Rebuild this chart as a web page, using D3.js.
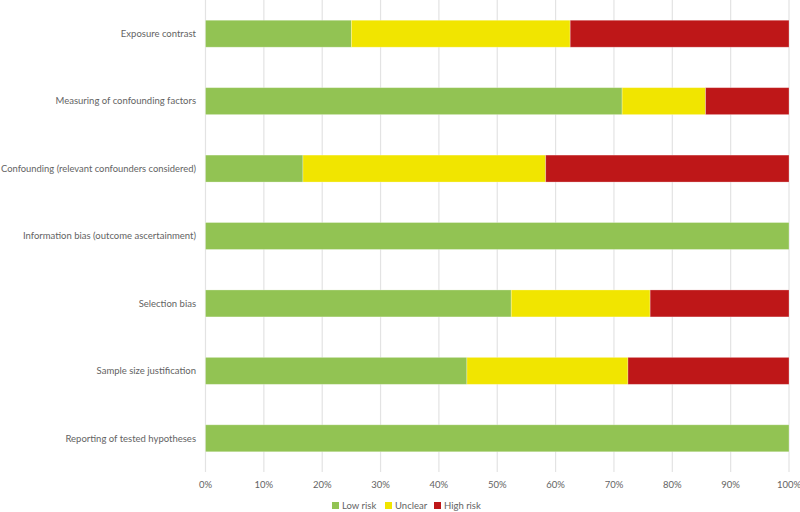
<!DOCTYPE html>
<html><head><meta charset="utf-8">
<script src="https://cdn.jsdelivr.net/npm/d3@7"></script>
<style>body{margin:0;background:#fff}svg{display:block}text{font-family:Lato,"Open Sans",sans-serif;fill:#636363}</style>
</head><body><svg id="c" width="800" height="512"></svg>
<script>
const categories = ["Exposure contrast","Measuring of confounding factors","Confounding (relevant confounders considered)","Information bias (outcome ascertainment)","Selection bias","Sample size justification","Reporting of tested hypotheses"];
const lowRisk  = [25.0, 71.4, 16.7, 100, 52.4, 44.8, 100];
const unclear  = [37.5, 14.3, 41.6, 0, 23.8, 27.6, 0];
const highRisk = [37.5, 14.3, 41.7, 0, 23.8, 27.6, 0];
const seriesNames = ["Low risk","Unclear","High risk"];
const colors = ["#92C353","#F1E500","#BE1718"];
const tickValues = [0,10,20,30,40,50,60,70,80,90,100];

const svg = d3.select("#c");
const x = d3.scaleLinear().domain([0,100]).range([205.5,789]);
const y = d3.scaleBand().domain(categories).range([0,472]).paddingInner(0.6).paddingOuter(0.3);

// grid
svg.append("g").selectAll("line").data(tickValues).join("line")
  .attr("x1",d=>x(d)).attr("x2",d=>x(d)).attr("y1",0).attr("y2",472)
  .attr("stroke","#e3e3e3").attr("stroke-width",1.2);

const rows = categories.map((c,i)=>({cat:c,"Low risk":lowRisk[i],"Unclear":unclear[i],"High risk":highRisk[i]}));
const stack = d3.stack().keys(seriesNames)(rows);
svg.append("g").selectAll("g").data(stack).join("g").attr("fill",(d,i)=>colors[i])
  .selectAll("rect").data(d=>d).join("rect")
  .attr("x",d=>x(d[0])).attr("width",d=>Math.max(0,x(d[1])-x(d[0])))
  .attr("y",d=>y(d.data.cat)).attr("height",y.bandwidth())
  .attr("stroke","rgba(255,255,255,0.35)").attr("stroke-width",0.8);

// y labels
const yl = svg.append("g").selectAll("text").data(categories).join("text")
  .attr("x",196).attr("y",d=>y(d)+y.bandwidth()/2).attr("dy","0.35em")
  .attr("text-anchor","end").attr("font-size",9.5).text(d=>d);
yl.each(function(){ const w=this.getComputedTextLength(); if (w>195) d3.select(this).attr("textLength",195).attr("lengthAdjust","spacingAndGlyphs"); });

// x axis labels
svg.append("g").selectAll("text").data(tickValues).join("text")
  .attr("x",d=>x(d)).attr("y",487.5).attr("text-anchor","middle").attr("font-size",9.5)
  .text(d=>d+"%");

// legend
const lx = [332, 385, 434];
const lg = svg.append("g").selectAll("g").data(seriesNames).join("g")
  .attr("transform",(d,i)=>`translate(${lx[i]},506)`);
lg.append("rect").attr("x",0).attr("y",-4).attr("width",7).attr("height",7).attr("fill",(d,i)=>colors[i]);
lg.append("text").attr("x",10).attr("y",0).attr("dy","0.35em").attr("font-size",9.5).text(d=>d);
</script></body></html>
